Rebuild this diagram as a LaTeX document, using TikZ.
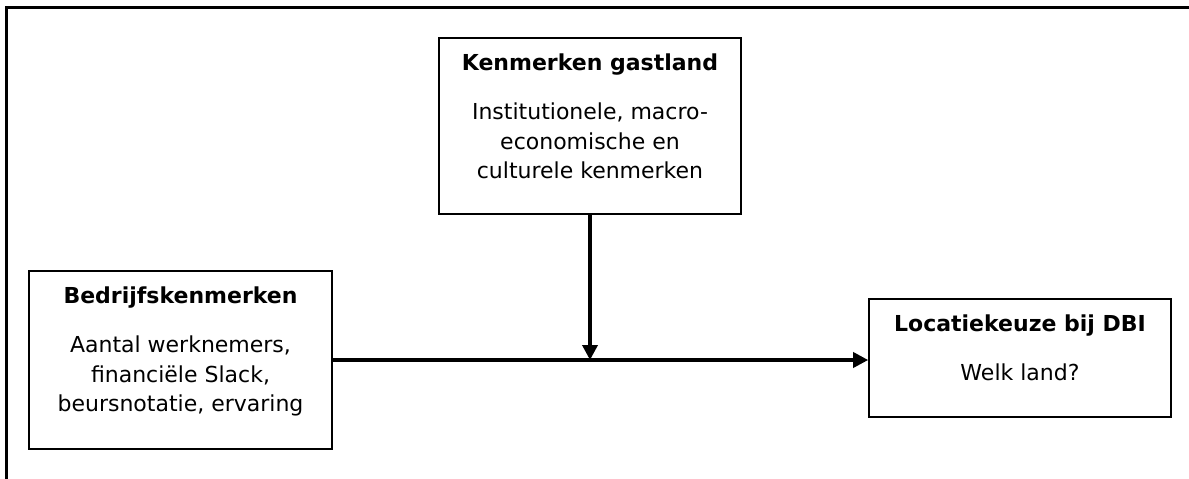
\documentclass[tikz,border=0pt]{standalone}
\usepackage{fontspec}
\setmainfont{DejaVu Sans}
\usetikzlibrary{arrows.meta,calc}
\tikzset{
  frame/.style={line width=3pt},
  box/.style={draw, line width=1.6pt, inner sep=0pt},
  lbl/.style={inner sep=0pt, font=\fontsize{22}{29.5}\selectfont},
  conn/.style={line width=3.5pt, -{Triangle[length=15pt,width=15pt]}}
}
\newcommand{\boxtext}[2]{\setlength{\tabcolsep}{0pt}\begin{tabular}[t]{c}\textbf{#1}\\[20pt]#2\end{tabular}}
\begin{document}
\begin{tikzpicture}[x=1pt,y=-1pt]
\useasboundingbox (0,0) rectangle (1189,479);
\draw[frame] (6,479) -- (6,7) -- (1189,7);
\node[box, minimum width=302pt, minimum height=176pt] (host) at (590,126) {};
\node[box, minimum width=303pt, minimum height=178pt] (firm) at (180.5,360) {};
\node[box, minimum width=302pt, minimum height=118pt] (loc) at (1020,358) {};
\node[lbl, anchor=base] (hostt) at ($(host.north)+(0,33)$) {\boxtext{Kenmerken gastland}{Institutionele, macro-\\economische en\\culturele kenmerken}};
\node[lbl, anchor=base] (firmt) at ($(firm.north)+(0,33)$) {\boxtext{Bedrijfskenmerken}{Aantal werknemers,\\financiële Slack,\\beursnotatie, ervaring}};
\node[lbl, anchor=base] (loct) at ($(loc.north)+(0,33)$) {\boxtext{Locatiekeuze bij DBI}{Welk land?}};
\coordinate (j) at (590,360);
\draw[conn] (firm.east) -- (loc.west |- firm.east);
\draw[conn] (host.south) -- (j);
\end{tikzpicture}
\end{document}
